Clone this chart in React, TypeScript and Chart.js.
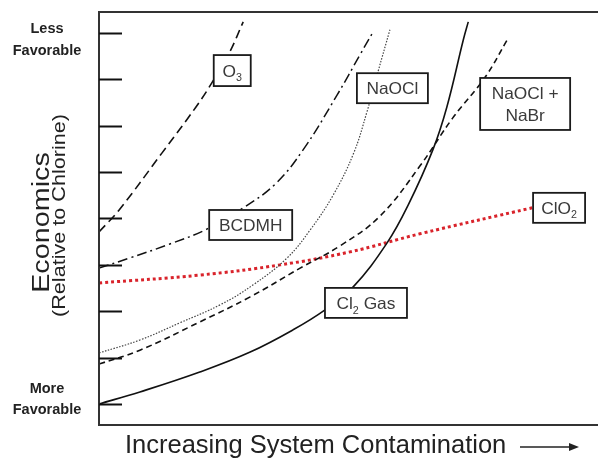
import React, { useEffect, useRef } from 'react';
import { Chart, registerables } from 'chart.js';

Chart.register(...registerables);

// ---- data (x: system contamination 0..100, y: relative economics, ticks 1..9) ----
const o3X = [0, 4.0, 12.6, 19.4, 22.7, 26.1, 28.9];
const o3Y = [4.71, 5.18, 6.41, 7.40, 7.94, 8.57, 9.24];

const bcdmhX = [0, 6.2, 14.2, 21.6, 28.9, 35.3, 40.9, 47.7, 52.3, 54.9];
const bcdmhY = [3.93, 4.15, 4.45, 4.77, 5.23, 5.74, 6.48, 7.66, 8.53, 9.02];

const naoclX = [0, 8.2, 16.2, 24.3, 30.9, 37.7, 42.3, 46.9, 51.0, 53.7, 55.9, 58.3];
const naoclY = [2.10, 2.38, 2.75, 3.14, 3.57, 4.15, 4.75, 5.50, 6.40, 7.30, 8.16, 9.07];

const naoclBrX = [0, 8.2, 20.2, 30.3, 40.3, 48.3, 56.3, 64.3, 70.9, 77.4, 81.8];
const naoclBrY = [1.86, 2.16, 2.77, 3.31, 3.93, 4.41, 5.05, 6.13, 7.17, 8.05, 8.85];

const cl2X = [0, 8.2, 20.2, 30.3, 38.9, 45.3, 50.9, 57.7, 62.0, 66.9, 69.7, 73.0, 74.0];
const cl2Y = [1.00, 1.26, 1.69, 2.12, 2.60, 3.03, 3.52, 4.47, 5.30, 6.48, 7.40, 8.85, 9.24];

const clo2X = [0, 20.2, 36.3, 50.3, 64.3, 86.8];
const clo2Y = [3.61, 3.78, 4.00, 4.28, 4.67, 5.23];

const yTicks = [1, 2, 3, 4, 5, 6, 7, 8, 9];
const topTickLabel = ['Less', 'Favorable'];
const bottomTickLabel = ['More', 'Favorable'];
const yTitle = 'Economics';
const ySubTitle = '(Relative to Chlorine)';
const xTitle = 'Increasing System Contamination';

type Part = { t: string; sub?: boolean };
const labelO3: Part[][] = [[{ t: 'O' }, { t: '3', sub: true }]];
const labelNaOCl: Part[][] = [[{ t: 'NaOCl' }]];
const labelNaOClBr: Part[][] = [[{ t: 'NaOCl +' }], [{ t: 'NaBr' }]];
const labelBCDMH: Part[][] = [[{ t: 'BCDMH' }]];
const labelClO2: Part[][] = [[{ t: 'ClO' }, { t: '2', sub: true }]];
const labelCl2: Part[][] = [[{ t: 'Cl' }, { t: '2', sub: true }, { t: ' Gas' }]];

// annotation boxes: centre in data coords, size in px
const boxes = [
  { lines: labelO3, x: 26.7, y: 8.19, w: 37, h: 31 },
  { lines: labelNaOCl, x: 58.8, y: 7.81, w: 71, h: 30 },
  { lines: labelNaOClBr, x: 85.4, y: 7.47, w: 90, h: 52 },
  { lines: labelBCDMH, x: 30.4, y: 4.86, w: 83, h: 30 },
  { lines: labelClO2, x: 92.2, y: 5.23, w: 52, h: 30 },
  { lines: labelCl2, x: 53.5, y: 3.18, w: 82, h: 30 },
];

const FONT = '"Liberation Sans", Arial, Helvetica, sans-serif';
const INK = '#222';

const zip = (xs: number[], ys: number[]) => xs.map((x, i) => ({ x, y: ys[i] }));

function partsWidth(ctx: CanvasRenderingContext2D, parts: Part[], size: number) {
  let w = 0;
  for (const p of parts) {
    ctx.font = `${p.sub ? size * 0.62 : size}px ${FONT}`;
    w += ctx.measureText(p.t).width;
  }
  return w;
}

function drawParts(ctx: CanvasRenderingContext2D, parts: Part[], cx: number, baseY: number, size: number, hs: number) {
  ctx.save();
  ctx.translate(cx, baseY);
  ctx.scale(hs, 1);
  ctx.textAlign = 'left';
  ctx.textBaseline = 'alphabetic';
  const total = partsWidth(ctx, parts, size);
  let x = -total / 2;
  for (const p of parts) {
    const s = p.sub ? size * 0.62 : size;
    ctx.font = `${s}px ${FONT}`;
    ctx.fillText(p.t, x, p.sub ? size * 0.28 : 0);
    x += ctx.measureText(p.t).width;
  }
  ctx.restore();
}

const decoPlugin = {
  id: 'deco',
  beforeDraw(chart: any) {
    const { ctx, width, height } = chart;
    ctx.save();
    ctx.fillStyle = '#fff';
    ctx.fillRect(0, 0, width, height);
    ctx.restore();
  },
  afterDatasetsDraw(chart: any) {
    const { ctx, chartArea: a, scales } = chart;
    const xs = scales.x;
    const ys = scales.y;
    ctx.save();
    // boxes
    for (const b of boxes) {
      const cx = xs.getPixelForValue(b.x);
      const cy = ys.getPixelForValue(b.y);
      ctx.fillStyle = '#fff';
      ctx.fillRect(cx - b.w / 2, cy - b.h / 2, b.w, b.h);
      ctx.strokeStyle = '#1a1a1a';
      ctx.lineWidth = 1.8;
      ctx.setLineDash([]);
      ctx.strokeRect(cx - b.w / 2, cy - b.h / 2, b.w, b.h);
      ctx.fillStyle = '#3a3a3a';
      const n = b.lines.length;
      const lh = 22;
      b.lines.forEach((ln, i) => {
        const base = cy + 6 + (i - (n - 1) / 2) * lh;
        drawParts(ctx, ln, cx, base, 16.5, 1.05);
      });
    }
    // axes frame
    ctx.strokeStyle = '#333';
    ctx.lineWidth = 2;
    ctx.beginPath();
    ctx.moveTo(a.right, a.top);
    ctx.lineTo(a.left, a.top);
    ctx.lineTo(a.left, a.bottom);
    ctx.lineTo(a.right, a.bottom);
    ctx.stroke();
    // inside ticks
    ctx.strokeStyle = '#111';
    ctx.lineWidth = 2;
    for (const t of yTicks) {
      const py = Math.round(ys.getPixelForValue(t)) + 0.5;
      ctx.beginPath();
      ctx.moveTo(a.left, py);
      ctx.lineTo(a.left + 23, py);
      ctx.stroke();
    }
    // tick end labels
    ctx.fillStyle = INK;
    ctx.textAlign = 'center';
    ctx.textBaseline = 'alphabetic';
    ctx.font = `bold 14.5px ${FONT}`;
    const topY = ys.getPixelForValue(yTicks[yTicks.length - 1]);
    const botY = ys.getPixelForValue(yTicks[0]);
    ctx.fillText(topTickLabel[0], 47, topY + 0);
    ctx.fillText(topTickLabel[1], 47, topY + 22);
    ctx.fillText(bottomTickLabel[0], 47, botY - 11);
    ctx.fillText(bottomTickLabel[1], 47, botY + 10);
    // y titles (rotated)
    const midY = (a.top + a.bottom) / 2;
    ctx.save();
    ctx.translate(49, midY + 4);
    ctx.rotate(-Math.PI / 2);
    ctx.scale(1.25, 1);
    ctx.font = `23px ${FONT}`;
    ctx.fillText(yTitle, 0, 0);
    ctx.restore();
    ctx.save();
    ctx.translate(65, midY - 3);
    ctx.rotate(-Math.PI / 2);
    ctx.scale(1.2, 1);
    ctx.font = `18px ${FONT}`;
    ctx.fillText(ySubTitle, 0, 0);
    ctx.restore();
    // x title
    ctx.textAlign = 'left';
    ctx.font = `25.5px ${FONT}`;
    ctx.fillText(xTitle, 125, 453);
    // arrow
    ctx.strokeStyle = INK;
    ctx.lineWidth = 1.6;
    ctx.beginPath();
    ctx.moveTo(520, 447);
    ctx.lineTo(572, 447);
    ctx.stroke();
    ctx.beginPath();
    ctx.moveTo(579, 447);
    ctx.lineTo(569, 443);
    ctx.lineTo(569, 451);
    ctx.closePath();
    ctx.fill();
    ctx.restore();
  },
};

export default function App() {
  const ref = useRef<HTMLCanvasElement | null>(null);
  useEffect(() => {
    if (!ref.current) return;
    const common = { pointRadius: 0, fill: false, tension: 0.4, showLine: true };
    const chart = new Chart(ref.current, {
      type: 'scatter',
      data: {
        datasets: [
          { ...common, label: 'O3', data: zip(o3X, o3Y), borderColor: '#111', borderWidth: 1.6, borderDash: [9, 5] },
          { ...common, label: 'BCDMH', data: zip(bcdmhX, bcdmhY), borderColor: '#111', borderWidth: 1.5, borderDash: [10, 4, 2, 4] },
          { ...common, label: 'NaOCl', data: zip(naoclX, naoclY), borderColor: '#444', borderWidth: 1.2, borderDash: [1.5, 1.5] },
          { ...common, label: 'NaOCl + NaBr', data: zip(naoclBrX, naoclBrY), borderColor: '#111', borderWidth: 1.6, borderDash: [6, 4] },
          { ...common, label: 'Cl2 Gas', data: zip(cl2X, cl2Y), borderColor: '#111', borderWidth: 1.6 },
          { ...common, label: 'ClO2', data: zip(clo2X, clo2Y), borderColor: '#d9232b', borderWidth: 3, borderDash: [3, 3] },
        ],
      },
      options: {
        animation: false,
        responsive: false,
        devicePixelRatio: 1,
        layout: { padding: { left: 99, right: 0, top: 12, bottom: 33 } },
        scales: {
          x: { type: 'linear', min: 0, max: 100, display: false },
          y: { type: 'linear', min: 0.547, max: 9.453, display: false },
        },
        plugins: { legend: { display: false }, tooltip: { enabled: false } },
      },
      plugins: [decoPlugin],
    });
    return () => chart.destroy();
  }, []);
  return (
    <div style={{ position: 'fixed', left: 0, top: 0, width: 598, height: 458, background: '#fff' }}>
      <canvas ref={ref} width={598} height={458} />
    </div>
  );
}
